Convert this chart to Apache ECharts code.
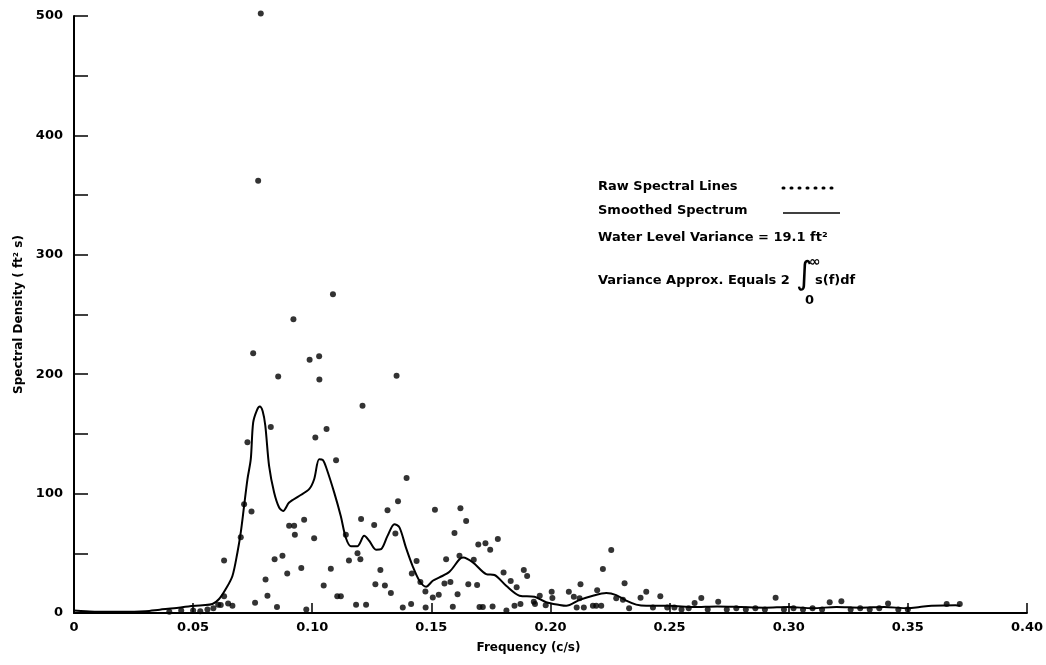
<!DOCTYPE html>
<html>
<head>
<meta charset="utf-8">
<script src="https://cdn.jsdelivr.net/npm/echarts@6/dist/echarts.min.js"></script>
<style>
html,body{margin:0;padding:0;background:#fff;}
#chart{width:1046px;height:665px;}
</style>
</head>
<body>
<div id="chart"></div>
<script>
// Raw spectral lines (frequency c/s, spectral density ft^2 s)
const rawFreq = [0.040,0.045,0.050,0.053,0.056,0.0585,0.0605,0.0616,0.063,0.063,0.0647,0.0665,0.070,0.0714,0.0728,0.0745,0.0752,0.0760,0.0773,0.0784,0.0804,0.0812,0.0826,0.0842,0.0852,0.0857,0.0875,0.0895,0.0903,0.0921,0.0924,0.0927,0.0954,0.0966,0.0975,0.0989,0.1008,0.1013,0.1029,0.1030,0.1048,0.1060,0.1078,0.1087,0.1100,0.1105,0.1120,0.1141,0.1154,0.1184,0.1190,0.1202,0.1205,0.1211,0.1226,0.1260,0.1265,0.1286,0.1305,0.1316,0.1330,0.1349,0.1354,0.1360,0.1380,0.1396,0.1415,0.1418,0.1438,0.1454,0.1475,0.1476,0.1506,0.1515,0.1531,0.1555,0.1562,0.1580,0.1590,0.1597,0.1610,0.1618,0.1622,0.1646,0.1655,0.1678,0.1692,0.1697,0.1702,0.1716,0.1727,0.1747,0.1757,0.1779,0.1803,0.1815,0.1833,0.1849,0.1858,0.1874,0.1888,0.1902,0.1930,0.1935,0.1955,0.1980,0.2005,0.2008,0.2077,0.2098,0.2110,0.2122,0.2126,0.2140,0.2178,0.2192,0.2196,0.2213,0.2220,0.2255,0.2276,0.2304,0.2311,0.2330,0.2378,0.2402,0.2430,0.2461,0.2490,0.2520,0.2550,0.2580,0.2605,0.2633,0.2660,0.2704,0.2740,0.2780,0.2820,0.2860,0.2900,0.2945,0.2980,0.3020,0.3060,0.3100,0.3140,0.3172,0.3221,0.3260,0.3300,0.3340,0.3380,0.3417,0.3460,0.3500,0.3663,0.3718];
const rawDensity = [1,2,2,1.5,3,4,7,6.7,14,44,8,6,63.5,91,143,85,217.6,8.5,362,502,28,14.4,155.8,45,5,198,48,33,73,246,73,65.6,37.6,78,3,212,62.7,147,215,195.6,23,154,37,267,128,14,14,65.5,44,7,50,45,78.8,173.6,7,73.6,24,36,23,86,16.7,66.6,198.7,93.6,4.7,113,7.5,33,43.5,26,18,4.7,13,86.4,15.3,24.8,45,26,5.3,67,15.6,48,87.8,77,24,44.6,23.4,57.4,5,5,58.5,53,5.5,62,34,2,26.8,6,21.5,7.5,36,31,9.5,7.5,14.5,6.5,17.8,12.5,17.8,13.6,4.7,12.3,24,4.7,6,6,19,6,36.8,52.7,12.3,11,25,4,12.8,17.8,4.7,14,4.7,4.7,3,4,8.4,12.5,3,9.5,3,4,3,4,3,12.8,3,4,3,4,3,9,9.8,3,4,3,4,8,3,3,7.5,7.5];

// Smoothed spectrum
const smoothFreq = [0,0.005,0.010,0.020,0.030,0.036,0.042,0.048,0.054,0.0581,0.0609,0.0637,0.0665,0.0686,0.0700,0.0714,0.0728,0.0742,0.0752,0.0768,0.0780,0.0792,0.0803,0.0819,0.0840,0.0861,0.0878,0.0903,0.0945,0.0987,0.1008,0.1029,0.1045,0.1060,0.1092,0.1120,0.1141,0.1162,0.1190,0.1218,0.1239,0.1268,0.1289,0.1316,0.1345,0.1366,0.1393,0.1421,0.1450,0.1478,0.1506,0.1534,0.1576,0.1618,0.1634,0.1674,0.1730,0.1765,0.1814,0.1870,0.1933,0.1982,0.2038,0.2066,0.2122,0.2178,0.2234,0.2276,0.2318,0.2360,0.2402,0.250,0.260,0.270,0.280,0.290,0.300,0.310,0.320,0.330,0.340,0.350,0.355,0.360,0.370,0.372];
const smoothDensity = [2,1.5,1,1,1.5,2.8,4,5.5,6.5,7.5,11.7,20,31,50.7,67.5,89.7,112,128.8,159.5,170,173,169,157,123,101,88.4,85.5,92.5,98,103.7,112,128.8,128,121,101,81,63,56,56,64.6,60.5,53,53.5,64.6,74.4,71.7,55,39.5,27,22,27,29.8,34.5,45,46.5,42.4,32.6,31.8,22.8,14.5,13.6,9,6.7,6,11,14.5,16.7,15,10.3,7,6,6,5,5.5,5,4.5,5,4,5,4.5,5,4,5,6,6.5,6];

// Axis ticks
const xTicks = [0,0.05,0.10,0.15,0.20,0.25,0.30,0.35,0.40];
const yTicks = [0,100,200,300,400,500];

const FONT = 'DejaVu Sans';
const rawData = rawFreq.map((f,i)=>[f,rawDensity[i]]);
const smoothData = smoothFreq.map((f,i)=>[f,smoothDensity[i]]);

const chart = echarts.init(document.getElementById('chart'), null, {renderer:'canvas'});
const txt = {fontFamily:FONT, fontWeight:'bold', fontSize:13, fill:'#000'};
chart.setOption({
  animation:false,
  backgroundColor:'#fff',
  grid:{left:74, right:19, top:16, bottom:52, containLabel:false},
  xAxis:{
    type:'value', min:xTicks[0], max:xTicks[xTicks.length-1], interval:0.05,
    name:'Frequency (c/s)', nameLocation:'middle', nameGap:29,
    nameTextStyle:{color:'#000', fontFamily:FONT, fontWeight:'bold', fontSize:12, padding:[0,44,0,0]},
    axisLine:{lineStyle:{color:'#000', width:2}},
    axisTick:{inside:true, length:10, lineStyle:{color:'#000', width:1.5}},
    axisLabel:{color:'#000', fontFamily:FONT, fontWeight:'bold', fontSize:13, margin:8,
      formatter:v=> v===0 ? '0' : v.toFixed(2)},
    splitLine:{show:false}
  },
  yAxis:{
    type:'value', min:yTicks[0], max:yTicks[yTicks.length-1], interval:100,
    name:'Spectral Density ( ft² s)', nameLocation:'middle', nameGap:46, nameRotate:90,
    nameTextStyle:{color:'#000', fontFamily:FONT, fontWeight:'bold', fontSize:12},
    axisLine:{lineStyle:{color:'#000', width:2}},
    axisTick:{inside:true, length:14, lineStyle:{color:'#000', width:1.5}},
    minorTick:{show:true, splitNumber:2, length:14, lineStyle:{color:'#000', width:1.5}},
    axisLabel:{color:'#000', fontFamily:FONT, fontWeight:'bold', fontSize:13, margin:11},
    splitLine:{show:false}, minorSplitLine:{show:false}
  },
  series:[
    {type:'scatter', name:'Raw Spectral Lines', data:rawData, symbol:'circle', symbolSize:6,
     clip:false, itemStyle:{color:'#000'}, z:3},
    {type:'line', name:'Smoothed Spectrum', data:smoothData, smooth:0.3, showSymbol:false,
     lineStyle:{color:'#000', width:2}, z:2}
  ],
  graphic:[
    {type:'text', left:598, top:180, style:Object.assign({text:'Raw Spectral Lines'},txt)},
    {type:'line', shape:{x1:783, y1:188, x2:838, y2:188},
     style:{stroke:'#000', lineWidth:3, lineDash:[1,7], lineCap:'round'}},
    {type:'text', left:598, top:204, style:Object.assign({text:'Smoothed Spectrum'},txt)},
    {type:'line', shape:{x1:783, y1:213, x2:840, y2:213}, style:{stroke:'#000', lineWidth:1.5}},
    {type:'text', left:598, top:231, style:Object.assign({text:'Water Level Variance = 19.1 ft²'},txt)},
    {type:'text', left:598, top:274, style:Object.assign({text:'Variance Approx. Equals 2'},txt)},
    {type:'text', left:796, top:260, style:{text:'∫', fontFamily:FONT, fontSize:32, fill:'#000'}},
    {type:'text', left:809, top:255, style:Object.assign({text:'∞'},txt,{fontSize:14})},
    {type:'text', left:805, top:294, style:Object.assign({text:'0'},txt)},
    {type:'text', left:815, top:274, style:Object.assign({text:'s(f)df'},txt)}
  ]
});
</script>
</body>
</html>
